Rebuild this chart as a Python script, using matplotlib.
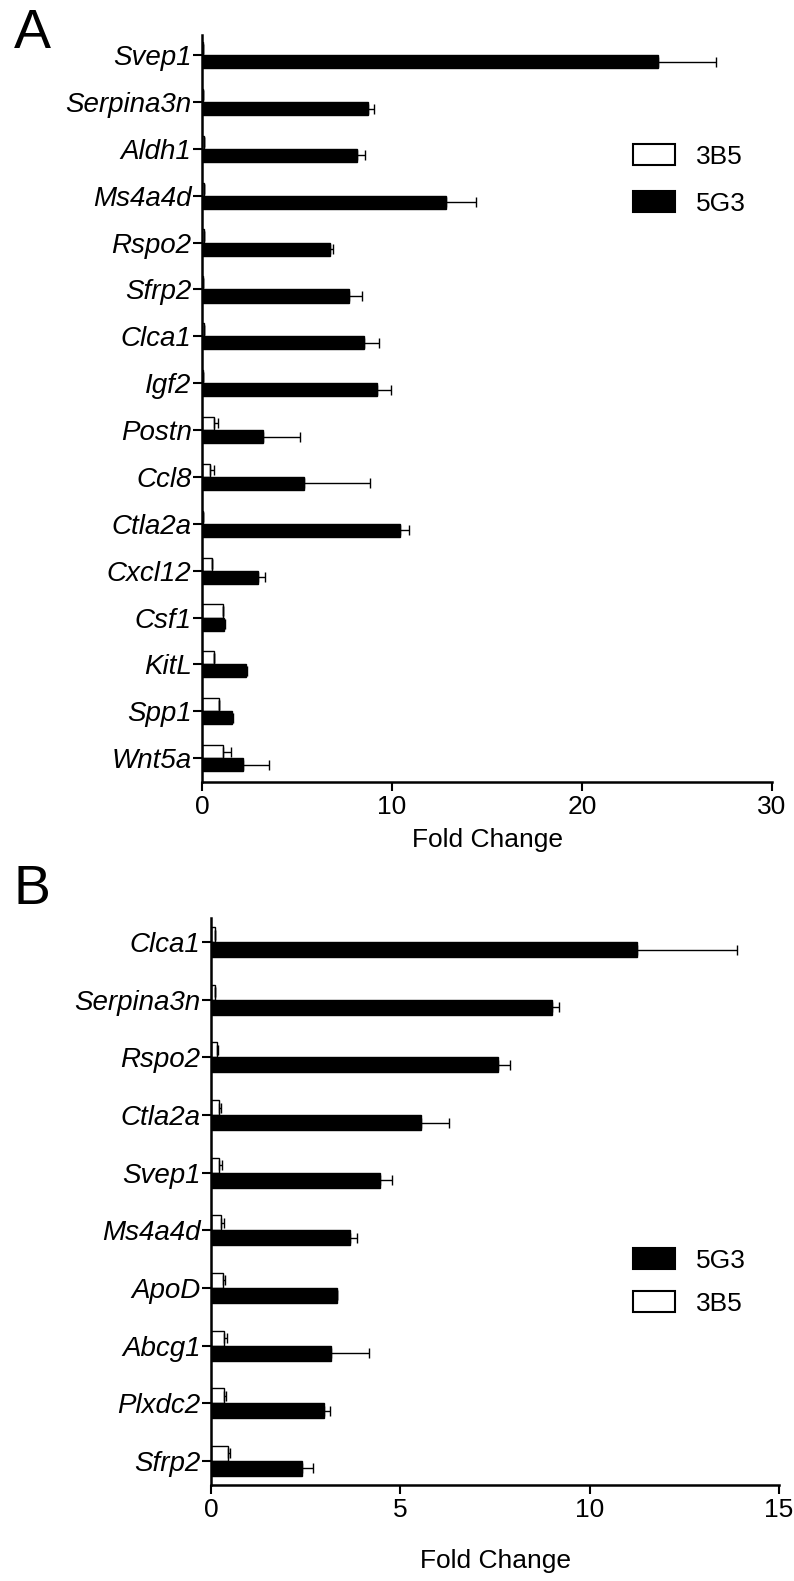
import numpy as np
import matplotlib.pyplot as plt
from matplotlib.patches import Patch

plt.rcParams['font.family'] = ['Liberation Sans', 'DejaVu Sans']

# panel A data
genes_a = ['Svep1', 'Serpina3n', 'Aldh1', 'Ms4a4d', 'Rspo2', 'Sfrp2', 'Clca1', 'Igf2',
           'Postn', 'Ccl8', 'Ctla2a', 'Cxcl12', 'Csf1', 'KitL', 'Spp1', 'Wnt5a']
a_3b5 = [0.05, 0.04, 0.1, 0.12, 0.1, 0.07, 0.08, 0.06, 0.64, 0.42, 0.05, 0.5, 1.1, 0.64, 0.88, 1.1]
a_3b5_err = [0, 0, 0, 0, 0, 0, 0, 0, 0.21, 0.21, 0, 0, 0, 0, 0, 0.4]
a_5g3 = [24.0, 8.75, 8.17, 12.86, 6.75, 7.75, 8.5, 9.22, 3.2, 5.38, 10.44, 2.97, 1.15, 2.3, 1.6, 2.15]
a_5g3_err = [3.05, 0.32, 0.43, 1.54, 0.15, 0.68, 0.83, 0.74, 1.97, 3.48, 0.46, 0.35, 0.05, 0.05, 0.05, 1.35]
a_ticks = [0, 10, 20, 30]

# panel B data
genes_b = ['Clca1', 'Serpina3n', 'Rspo2', 'Ctla2a', 'Svep1', 'Ms4a4d', 'ApoD', 'Abcg1', 'Plxdc2', 'Sfrp2']
b_5g3 = [11.24, 9.0, 7.57, 5.54, 4.46, 3.67, 3.32, 3.17, 2.98, 2.4]
b_5g3_err = [2.66, 0.2, 0.33, 0.74, 0.32, 0.19, 0.0, 1.0, 0.16, 0.29]
b_3b5 = [0.1, 0.1, 0.15, 0.2, 0.22, 0.26, 0.31, 0.34, 0.34, 0.45]
b_3b5_err = [0, 0, 0.03, 0.07, 0.08, 0.08, 0.06, 0.08, 0.06, 0.05]
b_ticks = [0, 5, 10, 15]

W, H = 794, 1581
fig = plt.figure(figsize=(W / 100, H / 100), dpi=100)

ekw = dict(ecolor='black', elinewidth=1.0, capsize=3.5, capthick=1.0)


def panel(box, genes, v3, e3, v5, e5, ticks, h, pad_top, pad_bot, labelpad):
    l, t, r, b = box
    ax = fig.add_axes([l / W, 1 - b / H, (r - l) / W, (b - t) / H])
    n = len(genes)
    y = np.arange(n)
    ax.barh(y - h / 2, v3, height=h, color='white', edgecolor='black', linewidth=1.0,
            xerr=[np.zeros(n), e3], error_kw=ekw)
    ax.barh(y + h / 2, v5, height=h, color='black', edgecolor='black', linewidth=1.0,
            xerr=[np.zeros(n), e5], error_kw=ekw)
    ax.set_ylim(n - 1 + pad_bot, -pad_top)
    ax.set_xlim(ticks[0], ticks[-1])
    ax.set_xticks(ticks)
    ax.set_yticks(y)
    ax.set_yticklabels(genes, fontstyle='italic', fontsize=20)
    ax.tick_params(axis='x', labelsize=19, length=6.5, width=1.5, pad=3)
    ax.tick_params(axis='y', length=6.5, width=1.5, pad=1)
    for s in ['top', 'right']:
        ax.spines[s].set_visible(False)
    for s in ['left', 'bottom']:
        ax.spines[s].set_linewidth(1.8)
    ax.set_xlabel('Fold Change', fontsize=19, labelpad=labelpad)
    return ax


ax_a = panel((202, 35, 772, 782), genes_a, a_3b5, a_3b5_err, a_5g3, a_5g3_err, a_ticks,
             0.28, 0.43, 0.51, 6)
ax_b = panel((211, 918, 779, 1485), genes_b, b_3b5, b_3b5_err, b_5g3, b_5g3_err, b_ticks,
             0.26, 0.42, 0.42, 19)

white = Patch(facecolor='white', edgecolor='black', linewidth=1.5)
black = Patch(facecolor='black', edgecolor='black', linewidth=1.5)
lkw = dict(loc='upper left', frameon=False, fontsize=19, handlelength=1.6, handleheight=0.85,
           handletextpad=0.8, borderpad=0, borderaxespad=0,
           bbox_transform=fig.transFigure)
ax_a.legend([white, black], ['3B5', '5G3'], bbox_to_anchor=(633 / W, 1 - 144 / H),
            labelspacing=0.85, **lkw)
ax_b.legend([black, white], ['5G3', '3B5'], bbox_to_anchor=(633 / W, 1 - 1248 / H),
            labelspacing=0.7, **lkw)

fig.text(14 / W, 1 - 8 / H, 'A', fontsize=40, va='top', ha='left')
fig.text(14 / W, 1 - 864 / H, 'B', fontsize=40, va='top', ha='left')

fig.savefig('out.png', dpi=100)
